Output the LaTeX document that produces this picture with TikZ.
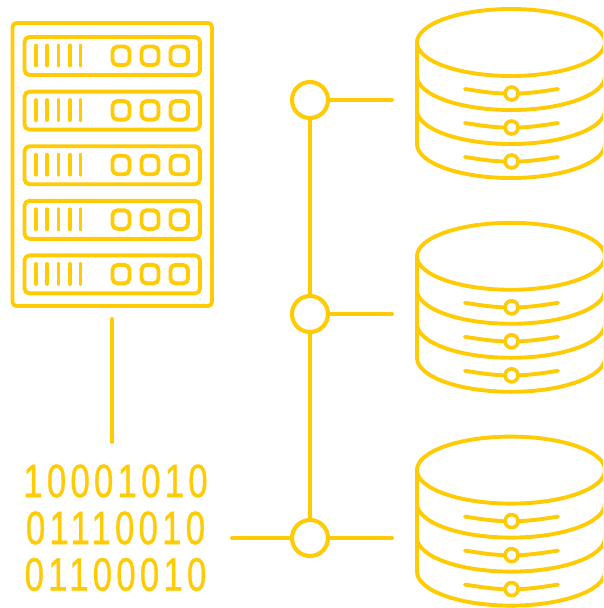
\documentclass[tikz,border=0pt]{standalone}
\usepackage{fontspec}
\newfontfamily\digitfont[FakeStretch=0.74,LetterSpace=9,FakeBold=0.7]{Liberation Sans}
\definecolor{icon}{HTML}{FFCB05}
\tikzset{
  ln/.style={draw=icon,line width=3.9pt,line cap=round,line join=round},
  hub/.style={circle,draw=icon,line width=4.1pt,minimum size=36pt,inner sep=0pt},
  knob/.style={circle,draw=icon,line width=3.6pt,minimum size=13pt,inner sep=0pt},
  bits/.style={text=icon,font=\digitfont\fontsize{47}{47}\selectfont,inner sep=0pt,anchor=center}
}
\begin{document}
\begin{tikzpicture}[x=1pt,y=-1pt]
\useasboundingbox (0,0) rectangle (603,608);
\clip (0,0) rectangle (603,608);
% server rack
\draw[ln,rounded corners=4pt] (12.5,23) rectangle (212,306);
\foreach \dy in {0,54.6,109.2,163.8,218.4}{
  \draw[ln,rounded corners=5pt] (24.5,37+\dy) rectangle (200,75+\dy);
  \foreach \bx in {36,47,58.5,70,80.5}
    \draw[ln] (\bx,45.5+\dy) -- (\bx,65.5+\dy);
  \foreach \ba/\bb in {112.5/129.5,141.5/158.5,170.5/188}
    \draw[ln,rounded corners=5pt] (\ba,46.5+\dy) rectangle (\bb,65+\dy);
}
% databases
\foreach \dy in {0,213.8,427.6}{
  \draw[ln] (511,42.5+\dy) ellipse[x radius=94,y radius=33.5];
  \draw[ln] (417,42.5+\dy) -- (417,144+\dy);
  \draw[ln] (605,42.5+\dy) -- (605,144+\dy);
  \foreach \oy in {76,110,144}
    \draw[ln] (417,\oy+\dy) arc[start angle=180,end angle=0,x radius=94,y radius=34];
  \foreach \oy in {0,34,68}{
    \node[knob] (k) at (511.6,93.5+\oy+\dy) {};
    \draw[ln] (465,89+\oy+\dy) .. controls (478,91+\oy+\dy) and (490,93+\oy+\dy) .. (k.west);
    \draw[ln] (558,89+\oy+\dy) .. controls (545,91+\oy+\dy) and (532,93+\oy+\dy) .. (k.east);
  }
}
% hubs and connectors
\node[hub] (h1) at (310,100) {};
\node[hub] (h2) at (310,314) {};
\node[hub] (h3) at (310,538) {};
\coordinate (d1) at (392,100);
\coordinate (d2) at (392,314);
\coordinate (d3) at (392,538);
\coordinate (src) at (232,538);
\coordinate (rackb) at (112,319);
\coordinate (bitst) at (112,442);
\draw[ln] (h1) -- (h2);
\draw[ln] (h2) -- (h3);
\draw[ln] (h1) -- (d1);
\draw[ln] (h2) -- (d2);
\draw[ln] (h3) -- (d3);
\draw[ln] (h3) -- (src);
\draw[ln] (rackb) -- (bitst);
% binary text
\node[bits] (r1) at (115.5,481) {10001010};
\node[bits] (r2) at (115.5,528) {01110010};
\node[bits] (r3) at (115.5,574.5) {01100010};
\end{tikzpicture}
\end{document}
